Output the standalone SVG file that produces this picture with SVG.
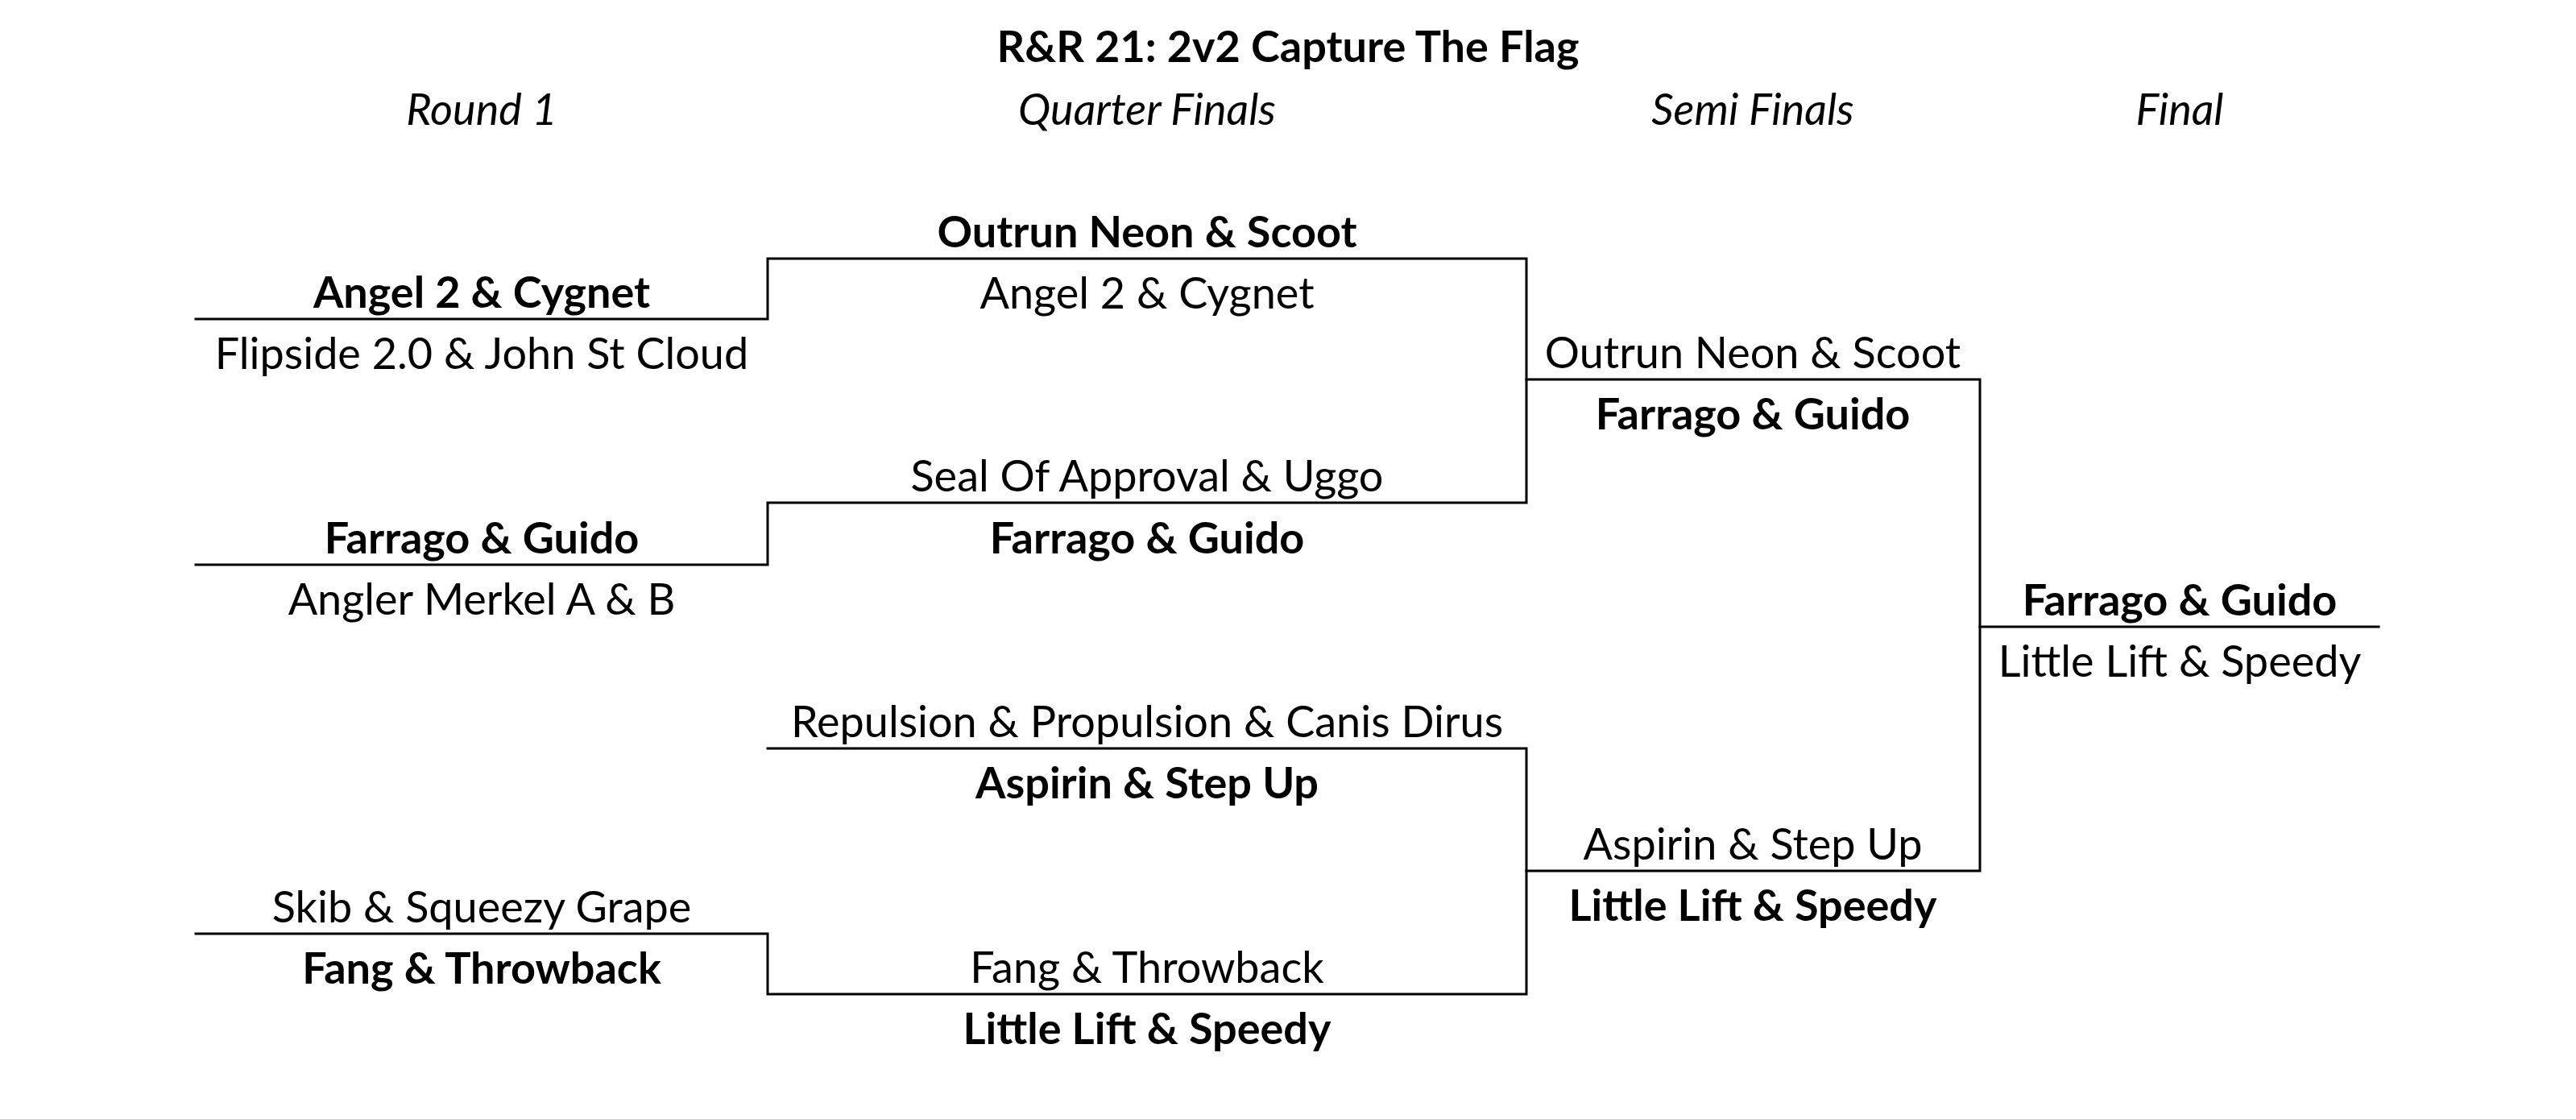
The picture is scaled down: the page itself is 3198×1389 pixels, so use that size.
<svg xmlns="http://www.w3.org/2000/svg" width="3198" height="1389" viewBox="0 0 3198 1389">
<style>
text{font-family:Lato,"Open Sans",sans-serif;font-size:54px;fill:#000;text-anchor:middle}
.b{font-weight:bold}
.i{font-style:italic}
.ln{fill:none;stroke:#000;stroke-width:3;stroke-linecap:square}
</style>
<rect width="3198" height="1389" fill="#fff"/>
<g id="title"><text class="b" x="1599" y="77">R&amp;R 21: 2v2 Capture The Flag</text></g>
<g id="headers">
<text class="i" x="598" y="155">Round 1</text>
<text class="i" x="1424" y="155">Quarter Finals</text>
<text class="i" x="2176" y="155">Semi Finals</text>
<text class="i" x="2706" y="155">Final</text>
</g>
<g id="connectors">
<path class="ln" d="M243 396H953V321H1895V624H953V701H243"/>
<path class="ln" d="M1895 471H2458V1081H1895"/>
<path class="ln" d="M953 929H1895V1234H953V1159H243"/>
<path class="ln" d="M2458 778H2953"/>
</g>
<g id="r1-m1"><text class="b" x="598" y="382">Angel 2 &amp; Cygnet</text><text x="598" y="458">Flipside 2.0 &amp; John St Cloud</text></g>
<g id="r1-m2"><text class="b" x="598" y="687">Farrago &amp; Guido</text><text x="598" y="763">Angler Merkel A &amp; B</text></g>
<g id="r1-m4"><text x="598" y="1145">Skib &amp; Squeezy Grape</text><text class="b" x="598" y="1221">Fang &amp; Throwback</text></g>
<g id="qf-1"><text class="b" x="1424" y="307">Outrun Neon &amp; Scoot</text><text x="1424" y="383">Angel 2 &amp; Cygnet</text></g>
<g id="qf-2"><text x="1424" y="610">Seal Of Approval &amp; Uggo</text><text class="b" x="1424" y="687">Farrago &amp; Guido</text></g>
<g id="qf-3"><text x="1424" y="915">Repulsion &amp; Propulsion &amp; Canis Dirus</text><text class="b" x="1424" y="991">Aspirin &amp; Step Up</text></g>
<g id="qf-4"><text x="1424" y="1220">Fang &amp; Throwback</text><text class="b" x="1424" y="1296">Little Lift &amp; Speedy</text></g>
<g id="sf-1"><text x="2176" y="457">Outrun Neon &amp; Scoot</text><text class="b" x="2176" y="533">Farrago &amp; Guido</text></g>
<g id="sf-2"><text x="2176" y="1067">Aspirin &amp; Step Up</text><text class="b" x="2176" y="1143">Little Lift &amp; Speedy</text></g>
<g id="final"><text class="b" x="2706" y="764">Farrago &amp; Guido</text><text x="2706" y="840">Little Lift &amp; Speedy</text></g>
</svg>
